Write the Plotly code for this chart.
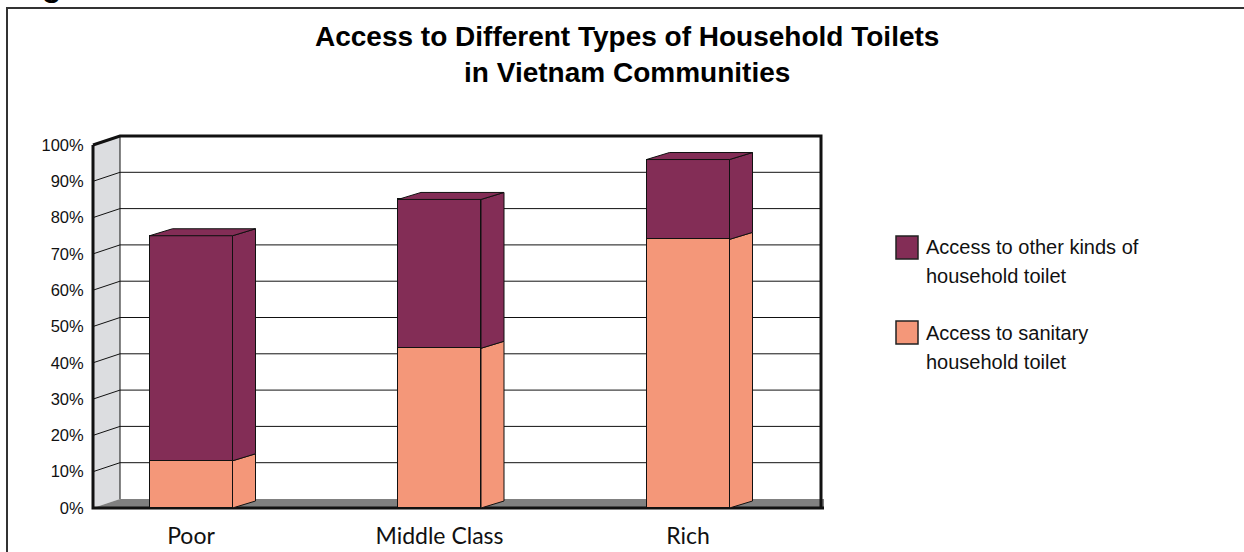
import plotly.graph_objects as go

# ---------------- data ----------------
categories = ["Poor", "Middle Class", "Rich"]
sanitary = [13, 44, 74]          # Access to sanitary household toilet (%)
other = [62, 41, 22]             # Access to other kinds of household toilet (%)
y_ticks = [0, 10, 20, 30, 40, 50, 60, 70, 80, 90, 100]
y_tick_labels = [f"{v}%" for v in y_ticks]
legend_other = ["Access to other kinds of", "household toilet"]
legend_sanitary = ["Access to sanitary", "household toilet"]
title_lines = ["Access to Different Types of Household Toilets", "in Vietnam Communities"]

PURPLE = "#832d56"
SALMON = "#f49779"
WALL_GREY = "#dcdde0"
FLOOR_GREY = "#808080"
INK = "#111111"

# ---------------- geometry (pixel layout) ----------------
W, H = 1244, 552
PL, PR, PT, PB = 60, 845, 125, 520
X0PX, XPU = 191.0, 248.5      # pixel of category 0, pixels per category unit
Y0PX, YPU = 508.0, 3.63       # pixel of 0 %, pixels per percent
xr = [(PL - X0PX) / XPU, (PR - X0PX) / XPU]
yr = [-(PB - Y0PX) / YPU, (Y0PX - PT) / YPU]


def dxu(p):
    return p / XPU


def dyu(p):
    return p / YPU


def xpix(p):
    return (p - X0PX) / XPU


def px_(p):
    return (p - PL) / (PR - PL)


def py_(p):
    return (PB - p) / (PB - PT)


AX = xpix(93)
WALL_DX, WALL_DY = dxu(27), dyu(9)
BAR_DX, BAR_DY = dxu(23), dyu(7)
RIGHT = xpix(821)
FLOOR_R = xpix(824)
BAR_W = dxu(83)
TOP = y_ticks[-1]

xs = list(range(len(categories)))

fig = go.Figure()

# front faces
fig.add_trace(go.Bar(x=xs, y=sanitary, width=BAR_W, name=" ".join(legend_sanitary),
                     marker=dict(color=SALMON, line=dict(color=INK, width=1)),
                     showlegend=False))
fig.add_trace(go.Bar(x=xs, y=other, width=BAR_W, name=" ".join(legend_other),
                     marker=dict(color=PURPLE, line=dict(color=INK, width=1)),
                     showlegend=False))

# 3D side and top faces
for i, x in enumerate(xs):
    xl, xrr = x - BAR_W / 2, x + BAR_W / 2
    segs = [(0, sanitary[i], SALMON), (sanitary[i], sanitary[i] + other[i], PURPLE)]
    for b, t, c in segs:
        fig.add_trace(go.Scatter(
            x=[xrr, xrr + BAR_DX, xrr + BAR_DX, xrr, xrr],
            y=[b, b + BAR_DY, t + BAR_DY, t, b],
            mode="lines", fill="toself", fillcolor=c,
            line=dict(color=INK, width=1), hoverinfo="skip", showlegend=False))
    t = sanitary[i] + other[i]
    fig.add_trace(go.Scatter(
        x=[xl, xl + BAR_DX, xrr + BAR_DX, xrr, xl],
        y=[t, t + BAR_DY, t + BAR_DY, t, t],
        mode="lines", fill="toself", fillcolor=PURPLE,
        line=dict(color=INK, width=1), hoverinfo="skip", showlegend=False))

shapes = []
# left wall
shapes.append(dict(type="path", layer="below", xref="x", yref="y",
                   path=f"M {AX},0 L {AX+WALL_DX},{WALL_DY} L {AX+WALL_DX},{TOP+WALL_DY} L {AX},{TOP} Z",
                   fillcolor=WALL_GREY, line=dict(width=0)))
# back wall
shapes.append(dict(type="rect", layer="below", xref="x", yref="y",
                   x0=AX + WALL_DX, y0=WALL_DY, x1=RIGHT, y1=TOP + WALL_DY,
                   fillcolor="white", line=dict(width=0)))
# floor
shapes.append(dict(type="path", layer="below", xref="x", yref="y",
                   path=f"M {AX},0 L {FLOOR_R},0 L {FLOOR_R},{WALL_DY} L {AX+WALL_DX},{WALL_DY} Z",
                   fillcolor=FLOOR_GREY, line=dict(width=0)))
# grid lines
for v in y_ticks[1:-1]:
    shapes.append(dict(type="line", layer="below", xref="x", yref="y",
                       x0=AX + WALL_DX, y0=v + WALL_DY, x1=RIGHT, y1=v + WALL_DY,
                       line=dict(color=INK, width=1)))
    shapes.append(dict(type="line", layer="below", xref="x", yref="y",
                       x0=AX, y0=v, x1=AX + WALL_DX, y1=v + WALL_DY,
                       line=dict(color=INK, width=1)))
# back-left edge
shapes.append(dict(type="line", layer="below", xref="x", yref="y",
                   x0=AX + WALL_DX, y0=WALL_DY, x1=AX + WALL_DX, y1=TOP + WALL_DY,
                   line=dict(color=INK, width=1)))
# thick frame lines
shapes.append(dict(type="path", layer="below", xref="x", yref="y",
                   path=f"M {AX},{TOP} L {AX+WALL_DX},{TOP+WALL_DY} L {RIGHT},{TOP+WALL_DY} L {RIGHT},0",
                   line=dict(color=INK, width=3)))
shapes.append(dict(type="path", layer="below", xref="x", yref="y",
                   path=f"M {AX},{TOP} L {AX},0 L {FLOOR_R},0",
                   line=dict(color=INK, width=3)))
# outer frame (paper)
shapes.append(dict(type="path", xref="paper", yref="paper",
                   path=f"M {px_(7)},{py_(560)} L {px_(7)},{py_(8)} L {px_(1250)},{py_(8)}",
                   line=dict(color="#333333", width=2)))
# legend swatches
for (y0, y1, c) in [(236, 259, PURPLE), (321, 344, SALMON)]:
    shapes.append(dict(type="rect", xref="paper", yref="paper",
                       x0=px_(896), x1=px_(918), y0=py_(y1), y1=py_(y0),
                       fillcolor=c, line=dict(color="#222222", width=1.5)))

annotations = []
annotations.append(dict(xref="paper", yref="paper", x=px_(627), y=py_(55),
                        xanchor="center", yanchor="middle", showarrow=False,
                        text="<b>" + "<br>".join(title_lines) + "</b>",
                        font=dict(family="Liberation Sans, Arial", size=28, color="#000")))
for lines, yc in [(legend_other, 247), (legend_sanitary, 333)]:
    for k, ln in enumerate(lines):
        annotations.append(dict(xref="paper", yref="paper", x=px_(924), y=py_(yc + 29 * k),
                                xanchor="left", yanchor="middle", showarrow=False, text=ln,
                                font=dict(family="Liberation Sans, Arial", size=20, color="#111")))
annotations.append(dict(xref="paper", yref="paper", x=px_(52), y=py_(5),
                        xanchor="center", yanchor="bottom", showarrow=False, text="<b>g</b>",
                        font=dict(family="Liberation Sans, Arial", size=32, color="#000")))

fig.update_layout(
    width=W, height=H,
    margin=dict(l=PL, r=W - PR, t=PT, b=H - PB, pad=0, autoexpand=False),
    paper_bgcolor="white", plot_bgcolor="rgba(0,0,0,0)",
    barmode="stack", bargap=0,
    shapes=shapes, annotations=annotations,
    showlegend=False,
    xaxis=dict(range=xr, tickvals=xs, ticktext=categories, showgrid=False, zeroline=False,
               showline=False, ticks="", automargin=False,
               tickfont=dict(family="Lato, Noto Sans", size=23, color="#111"),
               fixedrange=True),
    yaxis=dict(range=yr, tickvals=y_ticks, ticktext=y_tick_labels, showgrid=False, zeroline=False,
               showline=False, ticks="outside", ticklen=6, tickcolor="rgba(0,0,0,0)",
               anchor="free", position=px_(93), automargin=False,
               tickfont=dict(family="Liberation Sans, Arial", size=16.5, color="#111"),
               fixedrange=True),
)

fig.write_html("out.html")
